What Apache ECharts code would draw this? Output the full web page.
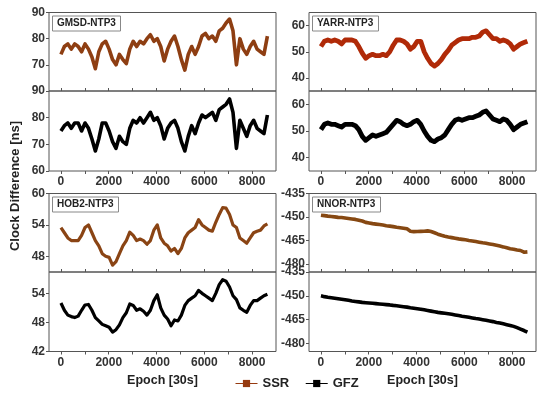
<!DOCTYPE html>
<html><head><meta charset="utf-8">
<script src="https://cdn.jsdelivr.net/npm/echarts@6/dist/echarts.min.js"></script>
<style>html,body{margin:0;padding:0;background:#fff}#c{width:550px;height:394px}</style>
</head><body><div id="c"></div>
<script>
// ---------- data ----------
const epochs = [0,144,288,432,576,720,864,1008,1152,1296,
  1440,1584,1728,1872,2016,2160,2304,2448,2592,2736,
  2880,3024,3168,3312,3456,3600,3744,3888,4032,4176,
  4320,4464,4608,4752,4896,5040,5184,5328,5472,5616,
  5760,5904,6048,6192,6336,6480,6624,6768,6912,7056,
  7200,7344,7488,7632,7776,7920,8064,8208,8352,8496,8640];
const xTickLabels = [0,2000,4000,6000,8000];
const xMinorTicks = [0,1000,2000,3000,4000,5000,6000,7000,8000];

const gmsdSSR = [74,77,78,76,78,77,75,78,76,73, 68.5,75,78,79,76,72,70,74,72,70.5, 76,79,77,79,78,80,81.5,79,80,77, 71.5,76,79,81,77,72,68,74,77,74, 77,81,82,80,81,79,83,84,86,87.5, 83,70,80,76,74,77,79,76,75,74, 81];
const gmsdGFZ = [75,77,78,76,78,78,75,78,76,72, 67.5,72,78,78,75,71,68.5,73,71,70, 76,79,78,80,78,80,82,79,80,77, 72,76,78,79,76,71,67.5,73,77,74, 78,81,80,81,82,79,83,84,85,87, 82,68.5,79,76,73,77,79,76,75,74, 81];
const yarrSSR = [52,54,54.5,54,54.5,54,53,54.5,54.5,54.5, 54,52,49.5,47.5,48.5,49,48.5,48.5,49,48.5, 50,52.5,54.5,54.5,54,53,51,52,54,54, 50,47.5,45.5,44.5,45.5,47,49,50.5,52.5,53.5, 54.5,55,55,55,55.5,55.5,56,57.5,58,56.5, 55,55,54,54.5,54,53,51,52,53,53.5, 54];
const yarrGFZ = [50.5,52.5,53,52.5,52.5,52,51.5,52.5,52.5,52.5, 52,50.5,48,46.5,47.5,48.5,48,48.5,49,49.5, 51,52.5,54,53.5,52.5,52,52.5,53.5,54,52.5, 50,48,46.5,46,47,47.5,48.5,50.5,52.5,54, 54.5,54,54.5,55,55,55.5,56,57,57.5,56, 54.5,54,53.5,54.5,54,52.5,50.5,51.5,52.5,53, 53.5];
const hob2SSR = [53.5,52.5,51.5,51,51,51,52,53.5,54,52.5, 51,50,48.5,48,47.8,46.3,47,48.5,50,51, 52.6,52,51,51.3,51,50.3,51,53,54,51.5, 50.5,50,49,49.5,48.5,49.5,51.5,52.5,53,53.5, 55,54,53.5,53,52.8,54.5,56,57.3,57.2,56, 54,53.5,51.5,51,50.5,51.5,52.5,52.8,53,53.8, 54.2];
const hob2GFZ = [52,50.5,49.5,49.2,49,49.3,50.5,51.6,51.7,50.5, 49,48.3,47.6,47.3,47,46,46.5,47.5,49,50, 51.8,51.5,50.5,50.8,50.3,49.5,50.5,52.5,53.7,51, 49.5,48.7,47.3,48.5,48.3,49.5,51.5,52.5,53,53.5, 54.6,54,53.5,53,52.5,54,55.8,56.8,56.5,55.3, 53.5,52.7,51,50.5,50.1,51.5,52.5,52.5,53,53.5, 53.8];
const nnorSSR = [-448.8,-449.1,-449.4,-449.6,-449.9,-450.2,-450.3,-450.6,-450.9,-451.2,
  -451.5,-452.0,-452.5,-453.4,-453.8,-454.2,-454.5,-454.8,-455.1,-455.5,
  -455.8,-456.1,-456.5,-456.8,-457.1,-457.5,-459.0,-459.3,-459.2,-459.1,
  -459.0,-458.8,-459.2,-460.0,-460.9,-461.6,-462.2,-462.7,-463.1,-463.5,
  -463.9,-464.2,-464.5,-464.9,-465.2,-465.6,-466.0,-466.4,-466.7,-467.1,
  -467.5,-468.0,-468.5,-469.0,-469.6,-470.2,-470.5,-471.0,-471.3,-472.4,
  -472.2];
const nnorGFZ = [-450.0,-450.5,-450.9,-451.2,-451.5,-451.8,-452.1,-452.4,-452.8,-453.2,
  -453.5,-453.8,-454.1,-454.3,-454.5,-454.7,-454.9,-455.1,-455.3,-455.5,
  -455.7,-456.0,-456.2,-456.5,-456.8,-457.1,-457.5,-457.8,-458.1,-458.4,
  -458.8,-459.2,-459.6,-460.0,-460.4,-460.7,-461.0,-461.3,-461.6,-462.0,
  -462.4,-462.8,-463.1,-463.5,-463.9,-464.3,-464.6,-465.0,-465.4,-465.8,
  -466.2,-466.7,-467.1,-467.6,-468.1,-468.6,-469.2,-470.0,-470.9,-471.8,
  -472.8];

const stationNames = ['GMSD-NTP3','YARR-NTP3','HOB2-NTP3','NNOR-NTP3'];
const gmsdTicks = [60,70,80,90];
const yarrTicks = [40,50,60];
const hob2UpperTicks = [48,54,60];
const hob2LowerTicks = [42,48,54];
const nnorTicks = [-480,-465,-450,-435];

// ---------- layout ----------
const FONT = '"Liberation Sans", Arial, Helvetica, sans-serif';
const SSR_COLOR = '#963a10';
const GFZ_COLOR = '#000000';
const colLeft = [49, 309], colW = 227;
const rows = [
  {upTop: 12.5, upH: 78.5, loTop: 91, loH: 80},
  {upTop: 193.5, upH: 78.5, loTop: 272, loH: 79.5}
];
const panels = [
  {name: stationNames[0], col:0, row:0, ssr:gmsdSSR, gfz:gmsdGFZ, width: 3.6,
   up:{min:60,max:90,labels:[70,80,90],ticks:gmsdTicks}, lo:{min:60,max:90,labels:gmsdTicks,ticks:gmsdTicks}, ssrColor:'#8e3e12'},
  {name: stationNames[1], col:1, row:0, ssr:yarrSSR, gfz:yarrGFZ, width: 4.8,
   up:{min:35,max:65,labels:yarrTicks,ticks:yarrTicks}, lo:{min:35,max:65,labels:yarrTicks,ticks:yarrTicks}, ssrColor:'#b02a08'},
  {name: stationNames[2], col:0, row:1, ssr:hob2SSR, gfz:hob2GFZ, width: 3.2,
   up:{min:45,max:60,labels:hob2UpperTicks,ticks:hob2UpperTicks}, lo:{min:42,max:58.4,labels:hob2LowerTicks,ticks:hob2LowerTicks}, ssrColor:'#8a4414'},
  {name: stationNames[3], col:1, row:1, ssr:nnorSSR, gfz:nnorGFZ, width: 3.6,
   up:{min:-485,max:-435,labels:nnorTicks,ticks:nnorTicks}, lo:{min:-485,max:-435,labels:nnorTicks,ticks:nnorTicks}, ssrColor:'#864812'}
];

const grid = [], xAxis = [], yAxis = [], series = [], title = [];
const labelStyle = {fontFamily: FONT, fontWeight: 'bold', fontSize: 12, color: '#333'};
const plain = (v) => String(v);

panels.forEach((p) => {
  const r = rows[p.row];
  ['up','lo'].forEach((part) => {
    const gi = grid.length;
    const isUp = part === 'up';
    grid.push({
      left: colLeft[p.col], width: colW,
      top: isUp ? r.upTop : r.loTop, height: isUp ? r.upH : r.loH,
      show: true, borderColor: '#555', borderWidth: 1, backgroundColor: 'transparent'
    });
    xAxis.push({
      gridIndex: gi, type: 'value', min: -500, max: 9000,
      axisLine: {show: false, onZero: false}, splitLine: {show: false},
      axisTick: {show: true, inside: isUp, length: 3, lineStyle: {color: '#555'}, customValues: xMinorTicks},
      axisLabel: Object.assign({show: !isUp, margin: 5, customValues: xTickLabels, formatter: plain}, labelStyle),
      name: (!isUp && p.row === 1) ? 'Epoch [30s]' : '', nameLocation: 'middle', nameGap: 23,
      nameTextStyle: {fontFamily: FONT, fontWeight: 'bold', fontSize: 12.5, color: '#222'}
    });
    const ax = p[part];
    yAxis.push({
      gridIndex: gi, type: 'value', min: ax.min, max: ax.max, position: 'left',
      axisLine: {show: false, onZero: false}, splitLine: {show: false},
      axisTick: {show: true, inside: false, length: 3, lineStyle: {color: '#555'}, customValues: ax.ticks},
      axisLabel: Object.assign({show: true, margin: 4, customValues: ax.labels, formatter: plain}, labelStyle)
    });
    const isSSR = isUp;
    const vals = isSSR ? p.ssr : p.gfz;
    series.push({
      name: isSSR ? 'SSR' : 'GFZ', type: 'line', xAxisIndex: gi, yAxisIndex: gi,
      data: epochs.map((e, i) => [e, vals[i]]),
      showSymbol: false, symbol: 'rect', symbolSize: 7,
      lineStyle: {width: p.width, color: isSSR ? p.ssrColor : GFZ_COLOR, join: 'round'},
      itemStyle: {color: isSSR ? SSR_COLOR : GFZ_COLOR},
      animation: false, silent: true
    });
    if (isUp) {
      title.push({
        text: p.name, left: colLeft[p.col] + 3, top: r.upTop + 3,
        padding: [3, 5, 3, 5], borderColor: '#888', borderWidth: 1, backgroundColor: '#fff',
        textStyle: {fontFamily: FONT, fontWeight: 'bold', fontSize: 10, color: '#222'}
      });
    }
  });
});

const chart = echarts.init(document.getElementById('c'), null, {renderer: 'canvas'});
chart.setOption({
  backgroundColor: '#fff',
  animation: false,
  title: title,
  grid: grid, xAxis: xAxis, yAxis: yAxis, series: series,
  legend: {
    data: [
      {name: 'SSR', itemStyle: {color: SSR_COLOR}, lineStyle: {color: SSR_COLOR, width: 1}},
      {name: 'GFZ', itemStyle: {color: GFZ_COLOR}, lineStyle: {color: GFZ_COLOR, width: 1}}
    ],
    left: 230, top: 372, itemWidth: 22, itemHeight: 9, itemGap: 16,
    textStyle: {fontFamily: FONT, fontWeight: 'bold', fontSize: 13, color: '#222'},
    selectedMode: false
  },
  graphic: [{
    type: 'text', x: 9, y: 186, rotation: Math.PI / 2,
    style: {text: 'Clock Difference [ns]', fontFamily: FONT, fontWeight: 'bold', fontSize: 13,
            fill: '#222', align: 'center', verticalAlign: 'top'}
  }]
});
</script>
</body></html>
